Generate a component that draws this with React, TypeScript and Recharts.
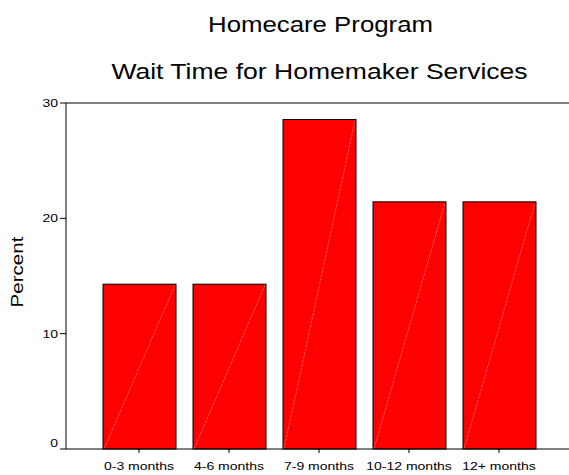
import React from 'react';
import { BarChart, Bar, XAxis, YAxis, ReferenceLine } from 'recharts';

const categories = ['0-3 months', '4-6 months', '7-9 months', '10-12 months', '12+ months'];
const percents = [14.29, 14.29, 28.57, 21.43, 21.43];
const yTicks = [0, 10, 20, 30];
const titleLines = ['Homecare Program', 'Wait Time for Homemaker Services'];
const yLabel = 'Percent';

const data = categories.map((c, i) => ({ name: c, value: percents[i] }));

const FONT = '"Liberation Sans", Arial, sans-serif';
const SX = 1.22;

const XTick = (props: any) => {
  const { x, y, payload } = props;
  return (
    <g transform={`translate(${x},${y + 15}) scale(${SX},1)`}>
      <text x={0} y={0} textAnchor="middle" fontFamily={FONT} fontSize={11.5} fill="#000">
        {payload.value}
      </text>
    </g>
  );
};

const YTick = (props: any) => {
  const { x, y, payload } = props;
  const dy = payload.value === 0 ? -6 : 0;
  return (
    <g transform={`translate(${x},${y + 4 + dy}) scale(${SX},1)`}>
      <text x={0} y={0} textAnchor="end" fontFamily={FONT} fontSize={11.5} fill="#000">
        {payload.value}
      </text>
    </g>
  );
};

const BarShape = (props: any) => {
  const { x, y, width, height } = props;
  return (
    <g>
      <rect x={x} y={y} width={width} height={height} fill="#FF0000" stroke="#000" strokeWidth={1} />
      <line x1={x + 1} y1={y + height} x2={x + width - 1} y2={y + 1} stroke="#ff8a8a" strokeWidth={0.6} strokeDasharray="3 1" />
    </g>
  );
};

export default function App() {
  return (
    <div style={{ position: 'absolute', left: 0, top: 0, width: 569, height: 475, background: '#fff' }}>
      <BarChart
        width={569}
        height={475}
        data={data}
        margin={{ top: 103, right: 0, bottom: 0, left: 0 }}
      >
        <XAxis
          dataKey="name"
          height={26}
          padding={{ left: 28, right: 25 }}
          tickSize={4}
          tick={<XTick />}
          axisLine={{ stroke: '#000' }}
          tickLine={{ stroke: '#000' }}
          interval={0}
        />
        <YAxis
          width={66}
          domain={[0, 30]}
          ticks={yTicks}
          tickSize={6}
          tick={<YTick />}
          axisLine={{ stroke: '#000' }}
          tickLine={{ stroke: '#000' }}
        />
        <ReferenceLine y={30} stroke="#000" strokeWidth={1} ifOverflow="extendDomain" />
        <Bar dataKey="value" barSize={73} isAnimationActive={false} shape={<BarShape />} />
      </BarChart>
      <svg width={569} height={475} style={{ position: 'absolute', left: 0, top: 0, pointerEvents: 'none' }}>
        <g transform={`translate(320.5,32) scale(1.2,1)`}>
          <text x={0} y={0} textAnchor="middle" fontFamily={FONT} fontSize={21.5} fill="#000">
            {titleLines[0]}
          </text>
        </g>
        <g transform={`translate(319.5,79) scale(1.235,1)`}>
          <text x={0} y={0} textAnchor="middle" fontFamily={FONT} fontSize={21.5} fill="#000">
            {titleLines[1]}
          </text>
        </g>
        <g transform={`translate(23,272) rotate(-90)`}>
          <text x={0} y={0} textAnchor="middle" fontFamily={FONT} fontSize={17} fill="#000" transform="scale(1.21,1)">
            {yLabel}
          </text>
        </g>
      </svg>
    </div>
  );
}
